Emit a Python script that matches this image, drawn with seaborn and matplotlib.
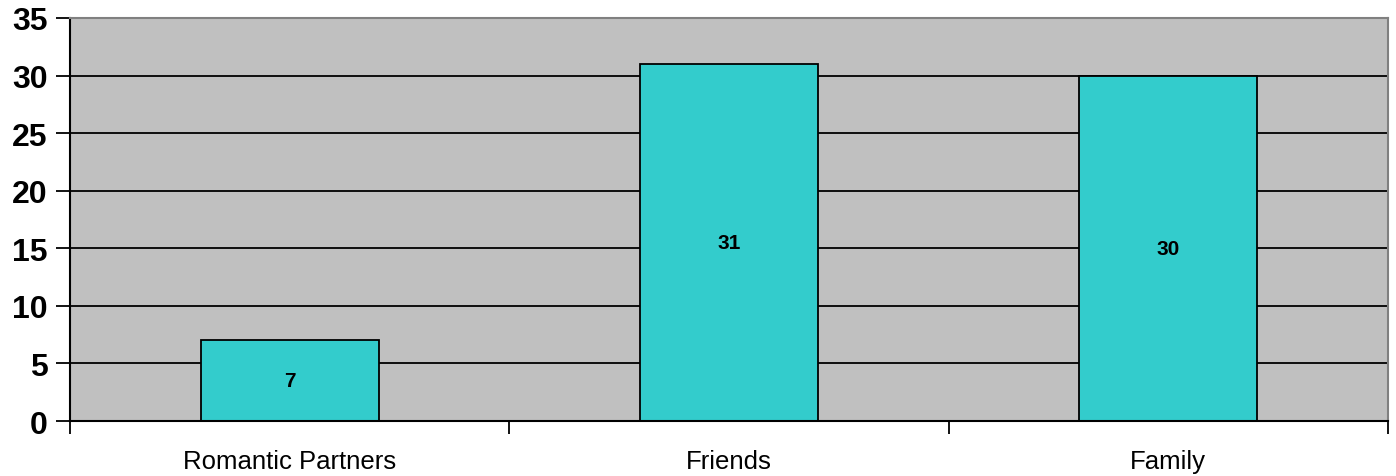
import pandas as pd
import matplotlib
matplotlib.use("Agg")
import matplotlib.pyplot as plt
import seaborn as sns

# 数据
categories = ["Romantic Partners", "Friends", "Family"]
counts = [7, 31, 30]
y_ticks = [0, 5, 10, 15, 20, 25, 30, 35]

sns.set_style("white")
plt.rcParams['font.family'] = ['Liberation Sans', 'DejaVu Sans']
plt.rcParams['text.color'] = 'black'
plt.rcParams['xtick.color'] = 'black'
plt.rcParams['ytick.color'] = 'black'

df = pd.DataFrame({"group": categories, "count": counts})

fig = plt.figure(figsize=(13.96, 4.77), dpi=100)
ax = fig.add_axes([0.0501, 0.1153, 0.9442, 0.8449])
ax.set_facecolor("#C0C0C0")
ax.set_axisbelow(True)

sns.barplot(data=df, x="group", y="count", color="#33CCCC", width=0.405,
            edgecolor="black", linewidth=1.3, saturation=1, ax=ax)

# 柱内数值
ax.bar_label(ax.containers[0], labels=[str(v) for v in counts], label_type="center",
             fontsize=15, fontweight="bold", color="black")

ax.set_ylim(0, 35)
ax.set_xlim(-0.5, len(categories) - 0.5)
ax.set_yticks(y_ticks)
ax.set_yticklabels([str(t) for t in y_ticks], fontsize=23, fontweight="bold")
ax.yaxis.grid(True, color="black", linewidth=1.3)
ax.xaxis.grid(False)

# x轴刻度放在类别之间
ax.tick_params(axis="x", which="major", bottom=True, length=0, labelsize=18.5,
               labelcolor="black", pad=20)
ax.set_xticks([i - 0.5 for i in range(len(categories) + 1)], minor=True)
ax.tick_params(axis="x", which="minor", bottom=True, length=9, width=1.3,
               direction="out", color="black")
ax.tick_params(axis="y", left=True, length=10, width=1.3, direction="out",
               color="black", labelcolor="black", pad=6)

ax.set_xlabel("")
ax.set_ylabel("")

for side in ["left", "bottom"]:
    ax.spines[side].set_color("black")
    ax.spines[side].set_linewidth(1.5)
for side in ["top", "right"]:
    ax.spines[side].set_visible(True)
    ax.spines[side].set_color("#808080")
    ax.spines[side].set_linewidth(1.5)

fig.savefig("out.png", dpi=100)
